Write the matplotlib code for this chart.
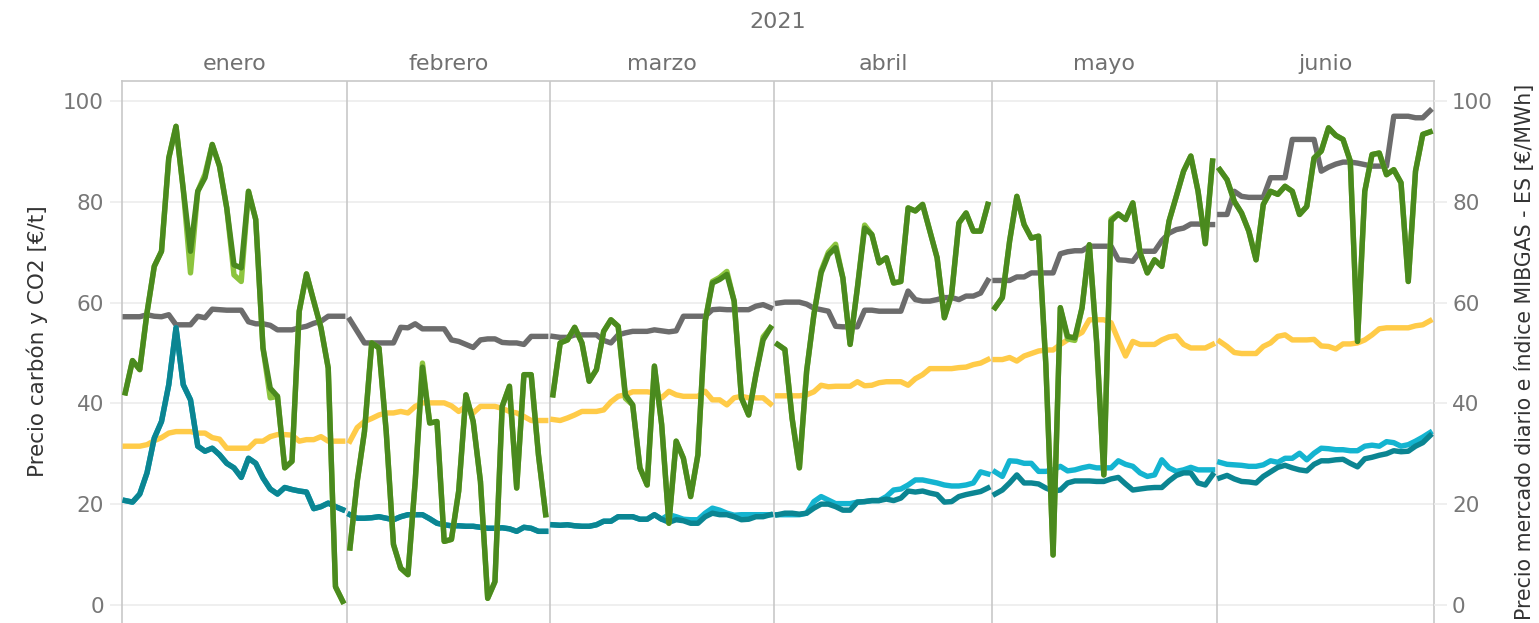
import numpy as np
import matplotlib.pyplot as plt

# Datos diarios 2021 (enero-junio)
months = ['enero', 'febrero', 'marzo', 'abril', 'mayo', 'junio']
days_in_month = [31, 28, 31, 30, 31, 30]

# Carbón API2 [€/t] (gris)
carbon = [
    [57.2, 57.2, 57.2, 57.6, 57.3, 57.2, 57.6, 55.6, 55.6, 55.6, 57.3, 57.0, 58.7, 58.6, 58.5, 58.5,
     58.5, 56.2, 55.8, 55.8, 55.5, 54.6, 54.6, 54.6, 55.0, 55.3, 55.9, 56.3, 57.3, 57.3, 57.3],
    [56.6, 54.3, 52.0, 52.0, 52.0, 52.0, 52.0, 55.1, 55.0, 55.8, 54.8, 54.8, 54.8, 54.8, 52.6, 52.3,
     51.7, 51.1, 52.6, 52.8, 52.8, 52.1, 52.0, 52.0, 51.7, 53.3, 53.3, 53.3],
    [53.3, 53.1, 53.1, 53.6, 53.6, 53.6, 53.6, 52.5, 52.0, 53.6, 54.0, 54.3, 54.3, 54.3, 54.6, 54.4,
     54.2, 54.4, 57.3, 57.3, 57.3, 57.3, 58.6, 58.7, 58.6, 58.6, 58.6, 58.6, 59.3, 59.6, 59.0],
    [59.9, 60.1, 60.1, 60.1, 59.7, 58.9, 58.6, 58.3, 55.3, 55.2, 55.2, 55.2, 58.5, 58.5, 58.3, 58.3,
     58.3, 58.3, 62.3, 60.6, 60.3, 60.3, 60.6, 61.0, 61.0, 60.6, 61.3, 61.3, 61.9, 64.4],
    [64.4, 64.4, 64.4, 65.1, 65.1, 65.9, 65.9, 65.9, 65.9, 69.7, 70.1, 70.3, 70.3, 71.2, 71.2, 71.2,
     71.2, 68.5, 68.4, 68.2, 70.2, 70.2, 70.2, 72.3, 73.8, 74.5, 74.8, 75.6, 75.6, 75.5, 75.5],
    [77.5, 77.5, 82.1, 81.1, 80.9, 80.9, 80.9, 84.8, 84.8, 84.8, 92.4, 92.4, 92.4, 92.4, 86.1, 86.9,
     87.5, 87.9, 87.9, 87.7, 87.4, 87.1, 87.1, 87.1, 97.0, 97.0, 97.0, 96.7, 96.7, 98.1],
]

# CO2 [€/t] (amarillo)
co2 = [
    [31.5, 31.5, 31.5, 31.8, 32.6, 33.2, 34.1, 34.4, 34.4, 34.4, 34.1, 34.1, 33.2, 32.9, 31.1, 31.1,
     31.1, 31.1, 32.5, 32.5, 33.4, 33.8, 33.8, 33.7, 32.5, 32.8, 32.8, 33.4, 32.5, 32.5, 32.5],
    [32.5, 35.2, 36.4, 37.0, 37.7, 38.1, 38.1, 38.4, 38.1, 39.4, 40.1, 40.1, 40.1, 40.1, 39.5, 38.4,
     39.4, 38.1, 39.4, 39.4, 39.4, 39.0, 38.4, 38.1, 37.4, 36.6, 36.6, 36.6],
    [36.8, 36.6, 37.1, 37.7, 38.4, 38.4, 38.4, 38.7, 40.3, 41.4, 41.7, 42.3, 42.3, 42.3, 42.1, 41.1,
     42.4, 41.7, 41.4, 41.4, 41.4, 42.4, 40.7, 40.7, 39.7, 41.1, 41.4, 41.1, 41.1, 41.1, 39.9],
    [41.5, 41.5, 41.5, 41.5, 41.7, 42.3, 43.6, 43.3, 43.4, 43.4, 43.4, 44.3, 43.5, 43.6, 44.1, 44.3,
     44.3, 44.3, 43.6, 44.9, 45.7, 46.9, 46.9, 46.9, 46.9, 47.1, 47.2, 47.7, 48.0, 48.7],
    [48.7, 48.7, 49.1, 48.4, 49.4, 49.9, 50.4, 50.6, 50.6, 51.7, 52.6, 53.3, 54.1, 56.6, 56.6, 56.6,
     56.0, 52.6, 49.4, 52.3, 51.7, 51.7, 51.7, 52.6, 53.2, 53.4, 51.7, 51.0, 51.0, 51.0, 51.7],
    [52.3, 51.3, 50.1, 49.9, 49.9, 49.9, 51.3, 52.0, 53.3, 53.6, 52.6, 52.6, 52.6, 52.7, 51.4, 51.3,
     50.8, 51.8, 51.8, 52.0, 52.6, 53.6, 54.8, 55.0, 55.0, 55.0, 55.0, 55.4, 55.6, 56.4],
]

# Precio mercado diario [€/MWh] (verde oscuro) y serie casi igual (verde claro)
omie = [
    [42.1, 48.5, 46.7, 58.0, 67.2, 70.2, 88.7, 95.0, 82.5, 70.2, 82.1, 84.8, 91.4, 87.1, 78.8, 67.5,
     66.9, 82.1, 76.5, 51.0, 43.0, 41.4, 27.2, 28.5, 58.3, 65.7, 60.3, 55.0, 47.0, 3.6, 0.7],
    [11.3, 24.5, 34.4, 52.0, 51.0, 34.4, 12.0, 7.3, 6.0, 24.5, 47.2, 36.1, 36.4, 12.6, 13.0, 22.6,
     41.7, 36.4, 24.5, 1.3, 4.6, 39.4, 43.4, 23.2, 45.7, 45.7, 29.8, 17.9],
    [41.7, 52.0, 52.6, 55.1, 52.0, 44.4, 46.7, 54.3, 56.6, 55.3, 41.7, 39.7, 27.2, 23.8, 47.4, 35.8,
     16.2, 32.5, 29.1, 21.5, 29.8, 56.3, 63.9, 64.6, 65.6, 60.3, 41.1, 37.7, 45.7, 52.6, 55.0],
    [51.7, 50.7, 37.0, 27.2, 46.4, 57.6, 65.9, 69.5, 70.9, 64.9, 51.7, 62.9, 74.8, 73.5, 67.9, 68.9,
     63.9, 64.2, 78.8, 78.2, 79.5, 74.2, 68.9, 57.0, 61.6, 75.8, 77.8, 74.2, 74.2, 79.5],
    [59.0, 61.0, 72.2, 81.1, 75.5, 72.8, 73.2, 47.7, 9.9, 59.0, 53.3, 53.0, 59.0, 71.5, 52.3, 25.8,
     76.2, 77.6, 76.5, 79.8, 69.9, 65.9, 68.5, 67.2, 76.2, 81.1, 86.1, 89.1, 82.1, 71.7, 88.1],
    [86.4, 84.4, 80.1, 77.8, 74.2, 68.5, 79.5, 82.1, 81.5, 83.1, 82.1, 77.5, 79.1, 88.7, 90.1, 94.7,
     93.2, 92.4, 88.1, 52.3, 82.1, 89.4, 89.7, 85.4, 86.4, 83.8, 64.2, 86.1, 93.4, 93.9],
]
omie_2 = [
    [42.1, 48.5, 46.7, 58.0, 67.2, 70.2, 88.7, 95.0, 82.5, 65.9, 82.1, 85.5, 91.4, 87.1, 78.8, 65.5,
     64.2, 82.1, 76.5, 51.0, 41.1, 41.4, 27.2, 28.5, 58.3, 65.7, 60.3, 55.0, 47.0, 3.6, 0.7],
    [11.3, 24.5, 34.4, 52.0, 51.0, 34.4, 12.0, 7.3, 6.0, 24.5, 48.0, 36.1, 36.4, 12.6, 13.0, 22.6,
     41.7, 36.4, 24.5, 1.3, 4.6, 39.4, 43.4, 23.2, 45.7, 45.7, 29.8, 17.9],
    [41.7, 52.0, 52.6, 55.1, 52.0, 44.4, 46.7, 54.3, 56.6, 55.3, 41.0, 39.7, 27.2, 23.8, 47.4, 35.8,
     16.2, 32.5, 29.1, 21.5, 29.8, 56.3, 64.2, 65.0, 66.2, 60.3, 41.1, 37.7, 45.7, 53.2, 55.0],
    [51.7, 50.7, 37.0, 27.2, 46.4, 57.6, 66.3, 70.0, 71.6, 64.9, 51.7, 62.9, 75.4, 73.5, 67.9, 68.9,
     63.9, 64.2, 78.8, 78.2, 79.5, 74.2, 68.9, 57.0, 61.6, 75.8, 77.8, 74.2, 74.2, 79.5],
    [59.0, 61.0, 72.2, 81.1, 75.5, 72.8, 73.2, 47.7, 9.9, 59.0, 52.8, 52.5, 59.0, 71.5, 52.3, 25.8,
     76.6, 77.6, 76.5, 79.8, 69.9, 65.9, 68.5, 67.2, 76.2, 81.1, 86.1, 89.1, 82.1, 71.7, 88.1],
    [86.4, 84.4, 80.1, 77.8, 74.2, 68.5, 79.5, 82.1, 81.5, 83.1, 82.1, 77.5, 79.1, 88.7, 90.1, 94.7,
     93.2, 92.4, 88.1, 52.3, 82.1, 89.4, 89.7, 85.4, 86.4, 83.8, 64.2, 86.1, 93.4, 93.9],
]

# Indice MIBGAS [€/MWh] (azul oscuro) y segundo producto (azul claro)
mibgas = [
    [20.7, 20.4, 22.0, 26.2, 33.1, 36.4, 43.7, 55.0, 43.7, 40.7, 31.5, 30.5, 31.1, 29.8, 28.1, 27.2,
     25.3, 29.1, 28.1, 25.2, 23.0, 22.0, 23.3, 22.9, 22.6, 22.4, 19.1, 19.5, 20.2, 19.5, 18.9],
    [17.9, 17.2, 17.2, 17.3, 17.5, 17.2, 16.9, 17.5, 17.9, 17.9, 17.9, 17.1, 16.2, 15.9, 15.7, 15.7,
     15.6, 15.6, 15.4, 15.2, 15.2, 15.3, 15.1, 14.6, 15.4, 15.2, 14.6, 14.6],
    [15.9, 15.8, 15.9, 15.7, 15.6, 15.6, 15.9, 16.6, 16.6, 17.5, 17.5, 17.5, 17.0, 17.0, 17.9, 17.0,
     16.4, 16.9, 16.7, 16.2, 16.2, 17.5, 18.2, 17.9, 17.9, 17.5, 16.9, 17.0, 17.5, 17.5, 17.9],
    [17.9, 18.2, 18.2, 18.0, 18.2, 19.2, 20.0, 20.0, 19.5, 18.8, 18.8, 20.4, 20.5, 20.7, 20.7, 21.0,
     20.7, 21.2, 22.6, 22.4, 22.6, 22.2, 21.9, 20.4, 20.5, 21.5, 21.9, 22.2, 22.5, 23.2],
    [22.0, 22.8, 24.2, 25.8, 24.2, 24.2, 24.0, 23.2, 22.6, 22.8, 24.2, 24.6, 24.6, 24.6, 24.5, 24.5,
     25.0, 25.3, 24.0, 22.8, 23.0, 23.2, 23.3, 23.3, 24.6, 25.7, 26.2, 26.2, 24.2, 23.8, 25.8],
    [25.2, 25.7, 25.0, 24.5, 24.4, 24.2, 25.5, 26.4, 27.3, 27.7, 27.2, 26.8, 26.6, 27.9, 28.6, 28.6,
     28.8, 28.9, 28.1, 27.4, 29.0, 29.3, 29.7, 30.0, 30.6, 30.4, 30.5, 31.5, 32.2, 33.6],
]
mibgas_2 = [
    [20.7, 20.4, 22.0, 26.2, 33.1, 36.4, 43.7, 55.0, 43.7, 40.7, 31.5, 30.5, 31.1, 29.8, 28.1, 27.2,
     25.3, 29.1, 28.1, 25.2, 23.0, 22.0, 23.3, 22.9, 22.6, 22.4, 19.1, 19.5, 20.2, 19.5, 18.9],
    [17.9, 17.2, 17.2, 17.3, 17.5, 17.2, 16.9, 17.5, 17.9, 17.9, 17.9, 17.1, 16.2, 15.9, 15.7, 15.7,
     15.6, 15.6, 15.4, 15.2, 15.2, 15.3, 15.1, 14.6, 15.4, 15.2, 14.6, 14.6],
    [15.9, 15.8, 15.9, 15.7, 15.6, 15.6, 15.9, 16.6, 16.6, 17.5, 17.5, 17.5, 17.0, 17.0, 17.9, 17.0,
     17.9, 17.5, 17.0, 16.9, 16.9, 18.2, 19.2, 18.8, 18.2, 17.8, 17.9, 17.9, 17.9, 17.9, 17.9],
    [17.9, 17.9, 17.9, 17.9, 18.2, 20.5, 21.5, 20.8, 20.1, 20.1, 20.1, 20.4, 20.5, 20.7, 20.7, 21.5,
     22.8, 23.0, 23.8, 24.8, 24.8, 24.5, 24.2, 23.8, 23.6, 23.6, 23.8, 24.2, 26.4, 26.0],
    [26.4, 25.5, 28.6, 28.5, 28.1, 28.1, 26.5, 26.5, 26.8, 27.5, 26.6, 26.8, 27.2, 27.5, 27.2, 27.2,
     27.2, 28.6, 27.9, 27.5, 26.2, 25.5, 25.8, 28.8, 27.2, 26.5, 26.8, 27.3, 26.8, 26.8, 26.8],
    [28.3, 27.9, 27.8, 27.7, 27.5, 27.5, 27.8, 28.6, 28.3, 29.1, 29.1, 30.1, 28.8, 30.1, 31.1, 31.0,
     30.8, 30.8, 30.6, 30.6, 31.5, 31.7, 31.5, 32.4, 32.2, 31.5, 31.8, 32.5, 33.3, 34.2],
]

col_carbon = '#6c6c6c'
col_co2 = '#ffcb48'
col_gas = '#0b8592'
col_gas2 = '#14b4d0'
col_omie = '#4a8a1e'
col_omie2 = '#8cc43e'
col_border = '#c8c8c8'

fig = plt.figure(figsize=(15.39, 6.23), dpi=100)
ax = fig.add_axes([122 / 1539, 0, 1312 / 1539, 542 / 623])

starts = np.concatenate([[0], np.cumsum(days_in_month)])
lw = 3.9
for m in range(len(months)):
    x = starts[m] + 0.45 + np.arange(days_in_month[m])
    ax.plot(x, carbon[m], color=col_carbon, lw=lw, solid_joinstyle='round', zorder=3)
    ax.plot(x, co2[m], color=col_co2, lw=lw, solid_joinstyle='round', zorder=3)
    ax.plot(x, mibgas_2[m], color=col_gas2, lw=lw, solid_joinstyle='round', zorder=4)
    ax.plot(x, mibgas[m], color=col_gas, lw=lw, solid_joinstyle='round', zorder=5)
    ax.plot(x, omie_2[m], color=col_omie2, lw=lw, solid_joinstyle='round', zorder=6)
    ax.plot(x, omie[m], color=col_omie, lw=lw, solid_joinstyle='round', zorder=7)
    if m > 0:
        ax.axvline(starts[m], color=col_border, lw=1.2, zorder=2)
    ax.text((starts[m] + starts[m + 1]) / 2, 1.032, months[m], transform=ax.get_xaxis_transform(),
            ha='center', va='center', fontsize=16, color='#707070')

ax.text(0.5, 1.108, '2021', transform=ax.transAxes, ha='center', va='center',
        fontsize=16, color='#707070')

ax.set_xlim(0, starts[-1])
ax.set_ylim(-3.6, 104)
yt = [0, 20, 40, 60, 80, 100]
ax.set_yticks(yt)
ax.set_xticks([])
ax.grid(axis='y', color='#ececec', lw=1.2, zorder=0)
ax.tick_params(axis='y', length=9, width=1.2, color='#ececec', labelsize=15.5,
               labelcolor='#777777', pad=4)
for side in ['left', 'right', 'top']:
    ax.spines[side].set_color(col_border)
    ax.spines[side].set_linewidth(1.2)
ax.spines['bottom'].set_visible(False)
ax.set_ylabel('Precio carbón y CO2 [€/t]', fontsize=15.5, color='#333333')
ax.yaxis.set_label_coords(-0.0564, 0.52)

ax2 = ax.twinx()
ax2.set_ylim(ax.get_ylim())
ax2.set_yticks(yt)
ax2.tick_params(axis='y', length=9, width=1.2, color='#ececec', labelsize=15.5,
                labelcolor='#777777', pad=4)
for s in ax2.spines.values():
    s.set_visible(False)
ax2.set_ylabel('Precio mercado diario e índice MIBGAS - ES [€/MWh]', fontsize=14.8,
               color='#333333')
ax2.yaxis.set_label_coords(1.0617, 0.5)

fig.savefig('out.png', dpi=100)
